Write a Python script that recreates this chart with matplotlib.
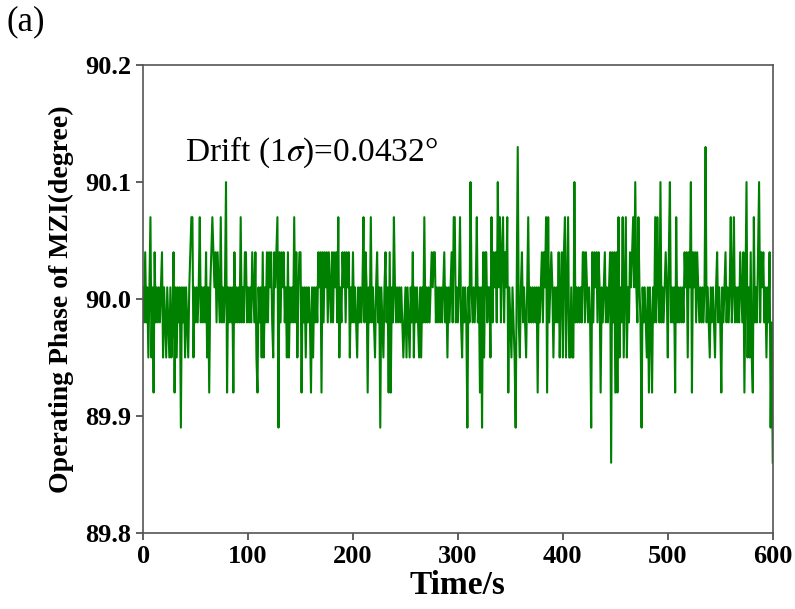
import matplotlib.pyplot as plt
import numpy as np

plt.rcParams['font.family'] = ['Liberation Serif', 'DejaVu Serif']
plt.rcParams['mathtext.fontset'] = 'stix'

# ---- data (1 sample per second) ----
phase = [
    90.01, 89.98, 90.04, 89.98, 90.01, 89.95, 90.01, 90.07, 89.95, 90.01,
    89.92, 90.04, 89.98, 90.01, 89.98, 90.01, 89.98, 90.01, 90.04, 89.95,
    90.01, 89.98, 89.95, 90.01, 89.98, 89.95, 90.01, 89.95, 89.98, 90.04,
    89.92, 90.01, 89.95, 90.01, 89.98, 90.01, 89.89, 90.01, 89.98, 90.01,
    89.95, 90.01, 89.98, 89.95, 90.01, 90.04, 90.07, 90.07, 89.95, 90.01,
    89.98, 90.01, 89.98, 90.01, 90.07, 89.98, 90.01, 89.98, 90.01, 89.98,
    90.04, 89.95, 90.01, 89.92, 90.01, 90.04, 90.07, 90.04, 90.01, 90.04,
    89.98, 90.04, 90.01, 89.98, 90.07, 89.98, 90.01, 89.98, 90.01, 90.10,
    89.92, 90.01, 89.98, 90.01, 89.98, 90.01, 89.92, 90.04, 89.98, 90.01,
    89.98, 90.01, 89.98, 90.07, 89.98, 90.01, 89.98, 90.04, 90.04, 89.98,
    90.01, 89.98, 90.01, 89.98, 90.04, 90.01, 89.98, 90.04, 89.95, 89.92,
    90.01, 89.98, 90.01, 89.95, 90.04, 89.95, 90.01, 89.98, 90.04, 89.98,
    90.04, 90.01, 90.04, 89.98, 89.95, 90.04, 90.01, 90.04, 90.07, 89.89,
    90.04, 89.98, 90.04, 90.01, 90.04, 89.98, 90.01, 89.95, 90.04, 89.95,
    90.01, 89.98, 90.01, 89.98, 90.07, 89.98, 90.04, 89.95, 90.01, 90.04,
    90.04, 89.92, 90.01, 89.98, 90.01, 89.95, 90.01, 89.98, 90.01, 89.98,
    89.92, 90.01, 89.95, 90.01, 89.98, 90.01, 89.98, 90.04, 90.01, 90.04,
    89.92, 90.04, 89.98, 90.04, 90.01, 90.04, 89.98, 90.04, 90.01, 89.98,
    90.04, 89.98, 90.04, 90.01, 90.04, 89.98, 90.07, 89.95, 90.01, 89.98,
    90.04, 90.01, 90.04, 89.98, 90.04, 90.01, 90.04, 89.95, 90.01, 89.98,
    90.04, 89.98, 90.01, 89.98, 89.95, 90.01, 89.98, 90.01, 89.98, 90.01,
    90.07, 89.98, 90.04, 90.01, 89.92, 90.01, 89.98, 90.07, 89.98, 90.01,
    89.98, 89.95, 90.01, 90.04, 89.98, 90.01, 89.89, 90.01, 89.98, 89.95,
    90.01, 90.04, 89.98, 90.01, 89.92, 90.04, 89.92, 90.01, 89.98, 90.07,
    90.01, 89.98, 90.01, 89.98, 90.01, 89.98, 90.01, 89.98, 89.95, 89.98,
    90.01, 89.95, 90.01, 89.98, 89.95, 90.01, 89.98, 90.04, 89.95, 90.01,
    89.98, 90.01, 89.98, 89.95, 90.01, 89.95, 90.01, 89.98, 90.07, 89.98,
    90.01, 89.98, 90.01, 89.98, 90.01, 90.04, 90.01, 90.04, 90.04, 89.98,
    90.01, 89.98, 90.01, 89.98, 90.01, 89.98, 90.01, 90.04, 89.98, 90.01,
    89.95, 90.01, 89.98, 90.01, 90.04, 89.98, 90.07, 90.07, 89.98, 90.01,
    89.98, 90.01, 90.07, 89.98, 89.95, 90.01, 89.98, 90.01, 89.98, 89.89,
    90.01, 89.98, 90.10, 90.01, 89.98, 90.01, 89.98, 90.01, 90.07, 89.98,
    90.01, 89.92, 90.01, 89.89, 90.04, 89.95, 90.04, 90.04, 89.98, 90.01,
    90.01, 89.95, 90.07, 89.98, 90.04, 90.01, 90.04, 89.98, 90.10, 90.01,
    90.07, 89.98, 90.04, 90.07, 89.98, 90.04, 90.01, 90.07, 89.92, 90.01,
    89.98, 89.95, 90.01, 89.98, 89.95, 89.89, 90.01, 90.13, 89.98, 89.95,
    90.01, 90.04, 89.98, 90.01, 89.98, 89.95, 90.01, 90.07, 89.98, 90.01,
    89.98, 90.01, 89.98, 90.01, 89.98, 90.01, 89.92, 90.01, 89.98, 90.01,
    90.04, 89.98, 90.04, 90.01, 90.07, 89.92, 90.07, 89.98, 90.01, 90.04,
    90.01, 89.95, 90.01, 89.98, 90.01, 89.98, 90.04, 89.95, 90.01, 90.04,
    89.95, 90.04, 90.07, 89.95, 90.01, 90.07, 89.95, 89.95, 90.01, 89.95,
    89.95, 90.10, 89.98, 90.01, 89.98, 90.01, 89.98, 90.01, 89.98, 90.04,
    90.04, 89.98, 90.04, 90.01, 89.98, 90.01, 89.98, 89.89, 90.04, 89.98,
    90.04, 90.01, 90.04, 89.98, 90.04, 90.01, 89.92, 90.01, 89.98, 90.01,
    90.04, 89.98, 90.01, 89.98, 90.01, 90.04, 89.86, 90.04, 89.98, 90.04,
    89.92, 90.04, 89.92, 90.07, 89.95, 90.01, 89.98, 90.07, 89.95, 90.01,
    90.07, 89.95, 90.01, 89.98, 90.04, 90.01, 90.04, 90.07, 90.01, 90.10,
    90.01, 89.98, 90.07, 90.01, 89.98, 89.89, 90.01, 89.98, 90.01, 89.98,
    89.95, 90.01, 89.92, 90.01, 89.98, 89.92, 90.01, 89.98, 90.07, 89.98,
    90.07, 90.01, 89.98, 90.10, 89.98, 90.01, 89.98, 90.01, 90.04, 90.01,
    89.95, 90.04, 90.10, 89.98, 90.01, 89.98, 90.01, 89.92, 90.07, 89.98,
    90.01, 89.98, 90.01, 89.98, 90.01, 89.98, 90.04, 90.01, 90.04, 89.95,
    90.04, 90.01, 90.10, 89.92, 90.04, 90.01, 90.04, 89.98, 90.04, 90.01,
    89.98, 90.01, 89.98, 90.01, 89.98, 90.01, 90.13, 89.98, 90.01, 89.98,
    89.95, 90.01, 89.98, 90.01, 89.98, 89.95, 90.01, 90.04, 89.98, 90.01,
    89.98, 89.92, 90.01, 89.98, 90.01, 90.04, 89.98, 90.01, 89.98, 90.01,
    90.07, 89.98, 90.01, 90.07, 89.98, 90.01, 89.98, 90.01, 89.98, 90.04,
    90.01, 89.98, 90.04, 89.92, 90.01, 90.10, 89.95, 90.01, 89.95, 90.04,
    89.95, 89.92, 90.07, 89.98, 90.01, 89.98, 90.04, 90.10, 89.98, 90.04,
    90.01, 90.04, 89.98, 90.01, 89.95, 90.01, 89.98, 90.04, 89.89, 89.98,
    89.86,
]
time_s = np.arange(len(phase))

x_ticks = [0, 100, 200, 300, 400, 500, 600]
y_ticks = [89.8, 89.9, 90.0, 90.1, 90.2]

fig = plt.figure(figsize=(7.95, 6.09), dpi=100)
ax = fig.add_axes([0.180, 0.125, 0.792, 0.768])

ax.plot(time_s, phase, color='#008000', linewidth=1.5)

ax.set_xlim(0, 600)
ax.set_ylim(89.8, 90.2)
ax.set_xticks(x_ticks)
ax.set_yticks(y_ticks)
ax.set_yticklabels(['%.1f' % v for v in y_ticks])

for lab in ax.get_xticklabels() + ax.get_yticklabels():
    lab.set_fontweight('bold')
ax.tick_params(axis='both', labelsize=19, length=5, width=1.2, color='#444444')
for sp in ax.spines.values():
    sp.set_color('#555555')
    sp.set_linewidth(1.2)

ax.set_xlabel('Time/s', fontsize=24, fontweight='bold', labelpad=2)
ax.set_ylabel('Operating Phase of MZI(degree)', fontsize=20, fontweight='bold', labelpad=8)

ax.text(40, 90.118, r'Drift (1$\sigma$)=0.0432°', fontsize=24)
fig.text(0.008, 0.950, '(a)', fontsize=25)

fig.savefig('out.png', dpi=100)
